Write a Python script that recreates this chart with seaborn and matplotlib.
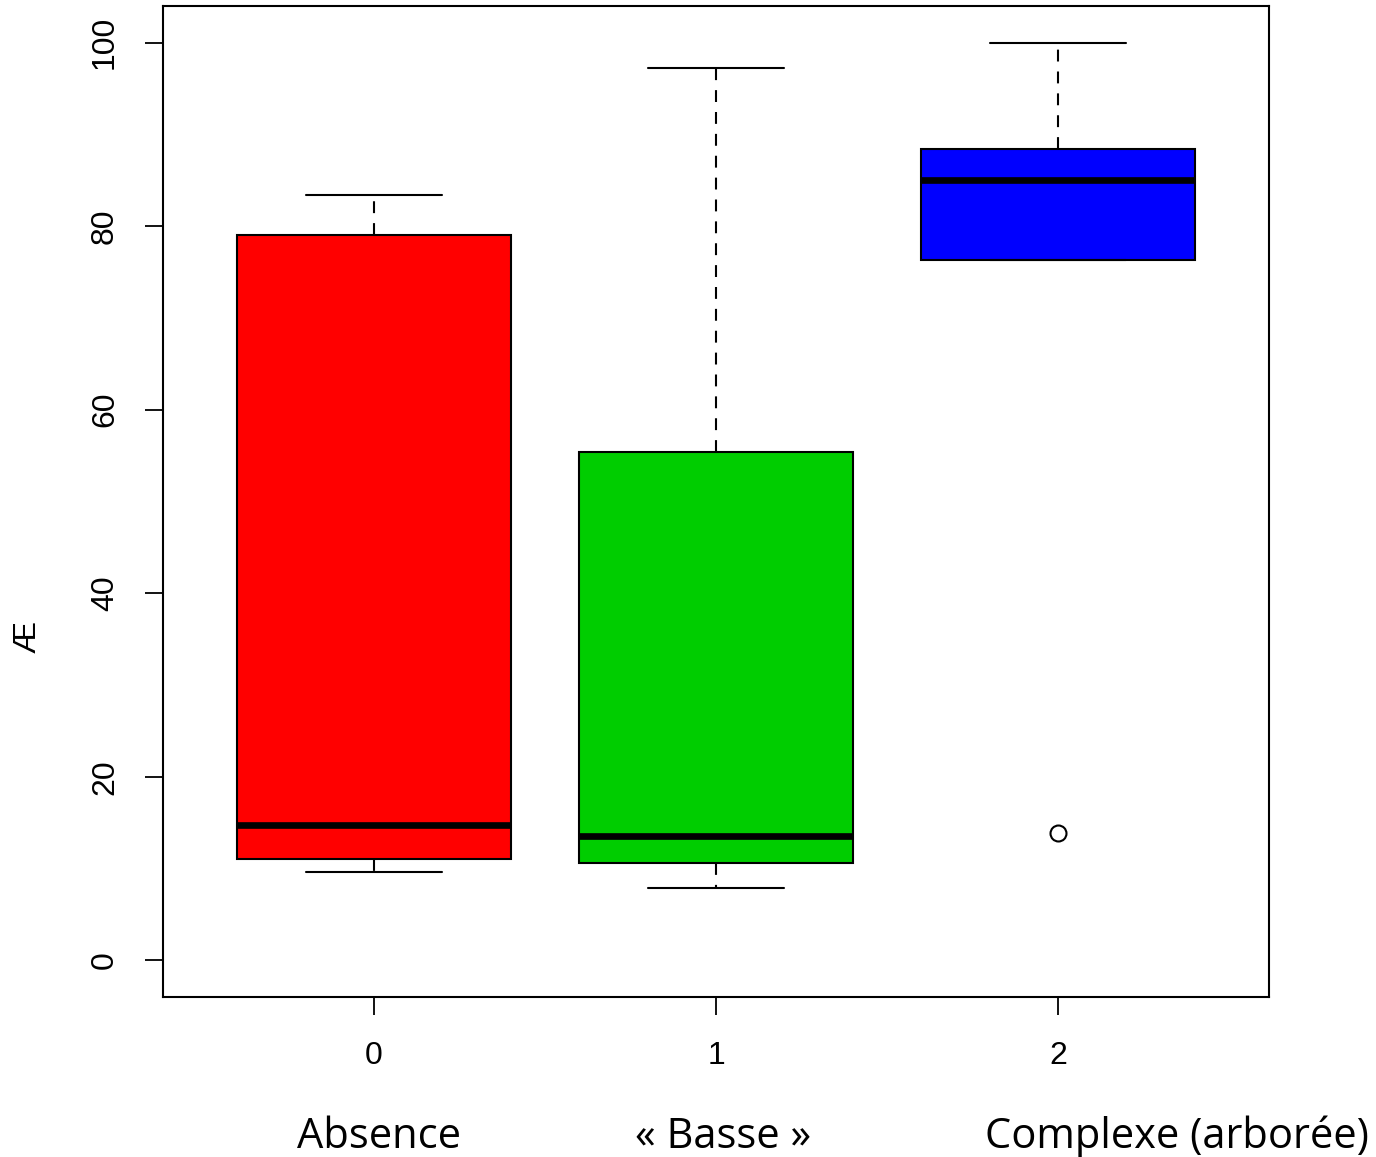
import numpy as np
import pandas as pd
import matplotlib
matplotlib.use("Agg")
import matplotlib.pyplot as plt
import seaborn as sns

# ─────────────────────────────────────────
# DATA
# ─────────────────────────────────────────
groups      = ["0", "1", "2"]
vals_absent = [9.6, 11.0, 14.7, 79.0, 83.4]
vals_basse  = [7.85, 10.6, 13.5, 55.4, 97.2]
vals_compl  = [13.85, 76.3, 85.0, 88.4, 100.0]
box_colors  = ["#FF0000", "#00CD00", "#0000FF"]
y_ticks     = [0, 20, 40, 60, 80, 100]
type_labels = ["Absence", "« Basse »", "Complexe (arborée)"]

df = pd.DataFrame({
    "group": ["0"] * len(vals_absent) + ["1"] * len(vals_basse) + ["2"] * len(vals_compl),
    "value": vals_absent + vals_basse + vals_compl,
})

sns.set_style("ticks")
plt.rcParams["font.family"] = ["Liberation Sans", "DejaVu Sans"]
plt.rcParams["text.color"] = "black"
plt.rcParams["xtick.color"] = "black"
plt.rcParams["ytick.color"] = "black"

W, H = 1376, 1157
fig = plt.figure(figsize=(W / 100, H / 100), dpi=100)
ax = fig.add_axes([163 / W, 1 - 997 / H, (1269 - 163) / W, (997 - 6) / H])

lw = 1.5
sns.boxplot(data=df, x="group", y="value", hue="group", order=groups,
            hue_order=groups, palette=box_colors, saturation=1, width=0.8,
            whis=1.5, legend=False, ax=ax, linecolor="black",
            boxprops=dict(edgecolor="black", linewidth=lw),
            whiskerprops=dict(color="black", linewidth=lw,
                              linestyle=(0, (5.7, 4.8))),
            capprops=dict(color="black", linewidth=lw),
            medianprops=dict(color="black", linewidth=4.8,
                             solid_capstyle="butt"),
            flierprops=dict(marker="o", markersize=11.5, markerfacecolor="white",
                            markeredgecolor="black", markeredgewidth=1.5))

ax.set_xlim(-0.617, 2.617)
ax.set_ylim(-4, 104)
ax.set_yticks(y_ticks)
ax.set_yticklabels([str(t) for t in y_ticks])
ax.set_xlabel("")
ax.set_ylabel("")

for s in ax.spines.values():
    s.set_visible(True)
    s.set_color("black")
    s.set_linewidth(1.5)

ax.tick_params(axis="both", direction="out", length=13, width=1.3,
               colors="black", labelcolor="black", labelsize=23,
               bottom=True, left=True, top=False, right=False)
ax.tick_params(axis="x", pad=19)
ax.tick_params(axis="y", pad=18)
for lab in ax.get_yticklabels():
    lab.set_rotation(90)
    lab.set_va("center")
    lab.set_ha("right")

# y label
fig.text(28 / W, 1 - 637 / H, "Æ", rotation=90, ha="center", va="center",
         fontsize=23, color="black")

# habitat type labels under the axis
label_x = [379, 723, 1177]
for x, t in zip(label_x, type_labels):
    fig.text(x / W, 1 - 1148 / H, t, ha="center", va="baseline", color="black",
             fontsize=30, family=["Open Sans", "DejaVu Sans"])

plt.savefig("out.png", dpi=100)
